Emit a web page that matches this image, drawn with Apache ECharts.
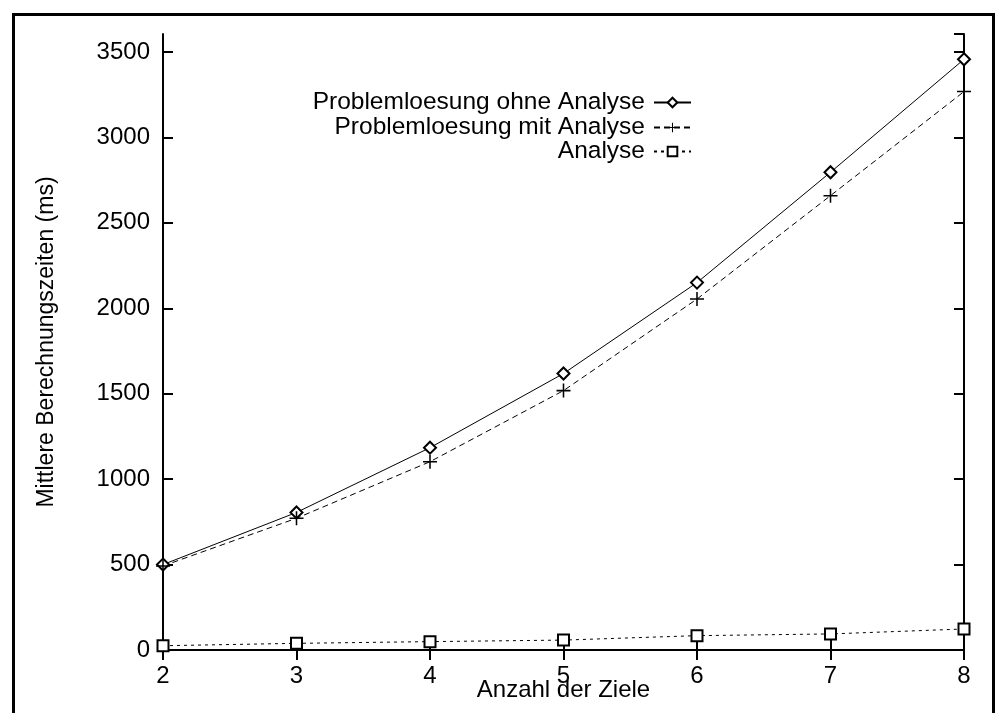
<!DOCTYPE html>
<html>
<head>
<meta charset="utf-8">
<script src="https://cdn.jsdelivr.net/npm/echarts@6/dist/echarts.min.js"></script>
<style>
  html, body { margin: 0; padding: 0; background: #fff; overflow: hidden; }
  #frame {
    position: absolute; left: 12px; top: 13px; width: 977px; height: 760px;
    border: 3px solid #000;
  }
  #chart { position: absolute; left: 0; top: 0; width: 997px; height: 713px; }
</style>
</head>
<body>
<div id="frame"></div>
<div id="chart"></div>
<script>
// Anzahl der Ziele
const ziele = [2, 3, 4, 5, 6, 7, 8]
// mittlere Berechnungszeiten (ms)
const ohneAnalyse = [500, 805, 1184, 1618, 2150, 2796, 3457]
const mitAnalyse = [492, 771, 1102, 1518, 2054, 2659, 3268]
const analyse = [25, 39, 49, 58, 84, 94, 123]
const seriesNames = ['Problemloesung ohne Analyse', 'Problemloesung mit Analyse', 'Analyse']

const font = 'Liberation Sans, Arial, Helvetica, sans-serif'
const plus = 'path://M0,4.45H4.45V0H5.55V4.45H10V5.55H5.55V10H4.45V5.55H0Z'

function pairs(vals) {
  return ziele.map((x, i) => [x, vals[i]])
}

var chart = echarts.init(document.getElementById('chart'))

// legend: one per row so the text can be right aligned
function legendRow(name, top) {
  return {
    data: [name],
    right: 305,
    top: top,
    align: 'right',
    padding: 0,
    itemWidth: 37,
    itemHeight: 12,
    selectedMode: false,
    textStyle: { color: '#000', fontSize: 24.5, fontFamily: font, padding: [0, 4, 0, 0] }
  }
}

const axisLineStyle = { color: '#000', width: 2 }
const tickStyle = { color: '#000', width: 2 }

var option = {
  animation: false,
  textStyle: { fontFamily: font },
  grid: { left: 163, right: 33, top: 34, bottom: 63, containLabel: false, outerBoundsMode: 'none' },
  legend: [legendRow(seriesNames[0], 90), legendRow(seriesNames[1], 115), legendRow(seriesNames[2], 139)],
  xAxis: [
    {
      type: 'value',
      min: 2,
      max: 8,
      interval: 1,
      name: 'Anzahl der Ziele',
      nameLocation: 'middle',
      nameGap: 28,
      nameMoveOverlap: false,
      nameTextStyle: { color: '#000', fontSize: 24, fontFamily: font },
      axisLine: { lineStyle: axisLineStyle },
      axisTick: { inside: true, length: 10, lineStyle: tickStyle },
      axisLabel: { color: '#000', fontSize: 24, fontFamily: font, margin: 14, formatter: v => String(v) },
      splitLine: { show: false }
    },
    {
      type: 'value',
      position: 'top',
      min: 2,
      max: 8,
      interval: 1,
      axisLine: { lineStyle: { color: '#000', width: 1.5 } },
      axisTick: { inside: true, length: 10, lineStyle: tickStyle },
      axisLabel: { show: false },
      splitLine: { show: false }
    }
  ],
  yAxis: [
    {
      type: 'value',
      min: 0,
      max: 3605,
      interval: 500,
      name: 'Mittlere Berechnungszeiten (ms)',
      nameLocation: 'middle',
      nameGap: 105,
      nameMoveOverlap: false,
      nameTextStyle: { color: '#000', fontSize: 23, fontFamily: font },
      axisLine: { show: true, lineStyle: axisLineStyle },
      axisTick: { show: true, inside: true, length: 10, lineStyle: tickStyle },
      axisLabel: { color: '#000', fontSize: 24, fontFamily: font, margin: 13, showMaxLabel: false, formatter: v => String(v) },
      splitLine: { show: false }
    },
    {
      type: 'value',
      position: 'right',
      min: 0,
      max: 3605,
      interval: 500,
      axisLine: { show: true, lineStyle: axisLineStyle },
      axisTick: { show: true, inside: true, length: 10, lineStyle: tickStyle },
      axisLabel: { show: false },
      splitLine: { show: false }
    }
  ],
  series: [
    {
      name: seriesNames[0],
      type: 'line',
      data: pairs(ohneAnalyse),
      symbol: 'emptyDiamond',
      symbolSize: 12,
      lineStyle: { color: '#000', width: 1 },
      itemStyle: { color: '#000', borderWidth: 1 },
      emphasis: { disabled: true }
    },
    {
      name: seriesNames[1],
      type: 'line',
      data: pairs(mitAnalyse),
      symbol: plus,
      symbolSize: 14,
      lineStyle: { color: '#000', width: 1, type: [6, 4] },
      itemStyle: { color: '#000' },
      emphasis: { disabled: true }
    },
    {
      name: seriesNames[2],
      type: 'line',
      data: pairs(analyse),
      symbol: 'emptyRect',
      symbolSize: 11,
      lineStyle: { color: '#000', width: 1, type: [3, 4] },
      itemStyle: { color: '#000', borderWidth: 1 },
      emphasis: { disabled: true }
    }
  ]
}
chart.setOption(option)
</script>
</body>
</html>
